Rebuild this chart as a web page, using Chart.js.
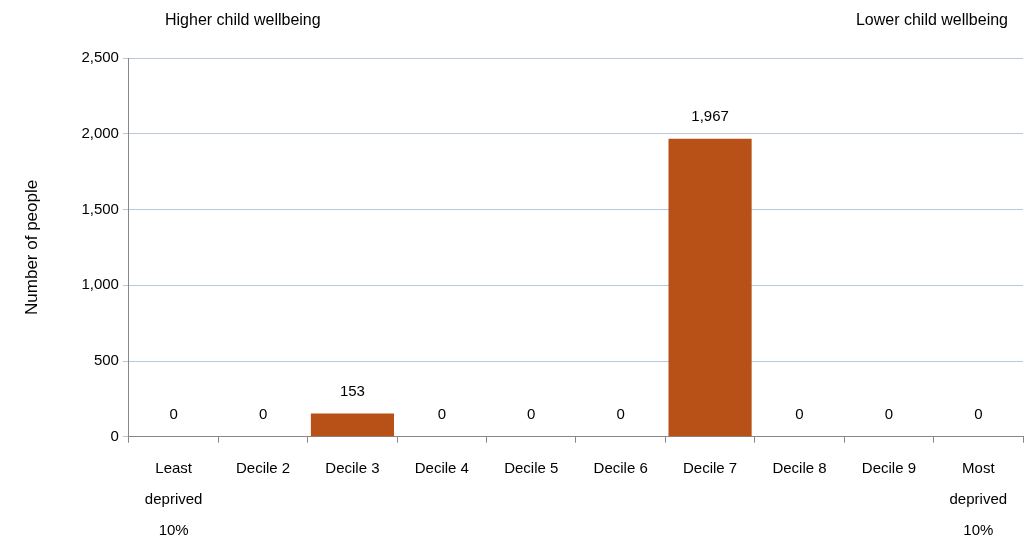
<!DOCTYPE html>
<html>
<head>
<script src="https://cdn.jsdelivr.net/npm/chart.js@4"></script>
<style>
  body { margin: 0; background: #fff; }
  #wrap { width: 1031px; height: 541px; position: relative; }
</style>
</head>
<body>
<div id="wrap"><canvas id="chart"></canvas></div>
<script>
const categories = [["Least", "deprived", "10%"], "Decile 2", "Decile 3", "Decile 4", "Decile 5",
  "Decile 6", "Decile 7", "Decile 8", "Decile 9", ["Most", "deprived", "10%"]];
const people = [0, 0, 153, 0, 0, 0, 1967, 0, 0, 0];
const yTicks = [0, 500, 1000, 1500, 2000, 2500];

const FONT = "Liberation Sans, Arial, sans-serif";

const extras = {
  id: "extras",
  afterDatasetsDraw(chart) {
    const ctx = chart.ctx;
    const meta = chart.getDatasetMeta(0);
    ctx.save();
    ctx.font = "15px " + FONT;
    ctx.fillStyle = "#000";
    ctx.textAlign = "center";
    ctx.textBaseline = "bottom";
    meta.data.forEach((bar, i) => {
      ctx.fillText(people[i].toLocaleString("en-US"), bar.x, bar.y - 14);
    });
    ctx.font = "16px " + FONT;
    ctx.textBaseline = "middle";
    ctx.textAlign = "left";
    ctx.fillText("Higher child wellbeing", 165, 21);
    ctx.textAlign = "right";
    ctx.fillText("Lower child wellbeing", 1008, 21);
    ctx.restore();
  }
};

new Chart(document.getElementById("chart"), {
  type: "bar",
  data: {
    labels: categories,
    datasets: [{
      data: people,
      backgroundColor: "#B85117",
      categoryPercentage: 0.93,
      barPercentage: 1.0
    }]
  },
  options: {
    responsive: true,
    maintainAspectRatio: false,
    animation: false,
    layout: { padding: { top: 58, right: 8, left: 22, bottom: -16 } },
    plugins: { legend: { display: false }, tooltip: { enabled: false } },
    scales: {
      x: {
        grid: { display: true, drawOnChartArea: false, offset: true, tickLength: 6, color: "#888" },
        border: { color: "#888" },
        ticks: { color: "#000", font: { family: FONT, size: 15, lineHeight: 2.05 }, maxRotation: 0, padding: 11 }
      },
      y: {
        min: 0, max: 2500,
        afterBuildTicks(axis) { axis.ticks = yTicks.map(v => ({ value: v })); },
        grid: { color: "#b8c8dc", tickLength: 6 },
        border: { color: "#888" },
        ticks: { color: "#000", font: { family: FONT, size: 15 }, padding: 4,
          callback: v => v.toLocaleString("en-US") },
        title: { display: true, text: "Number of people", color: "#000", font: { family: FONT, size: 17 },
          padding: { top: 0, bottom: 35 } }
      }
    }
  },
  plugins: [extras]
});
</script>
</body>
</html>
